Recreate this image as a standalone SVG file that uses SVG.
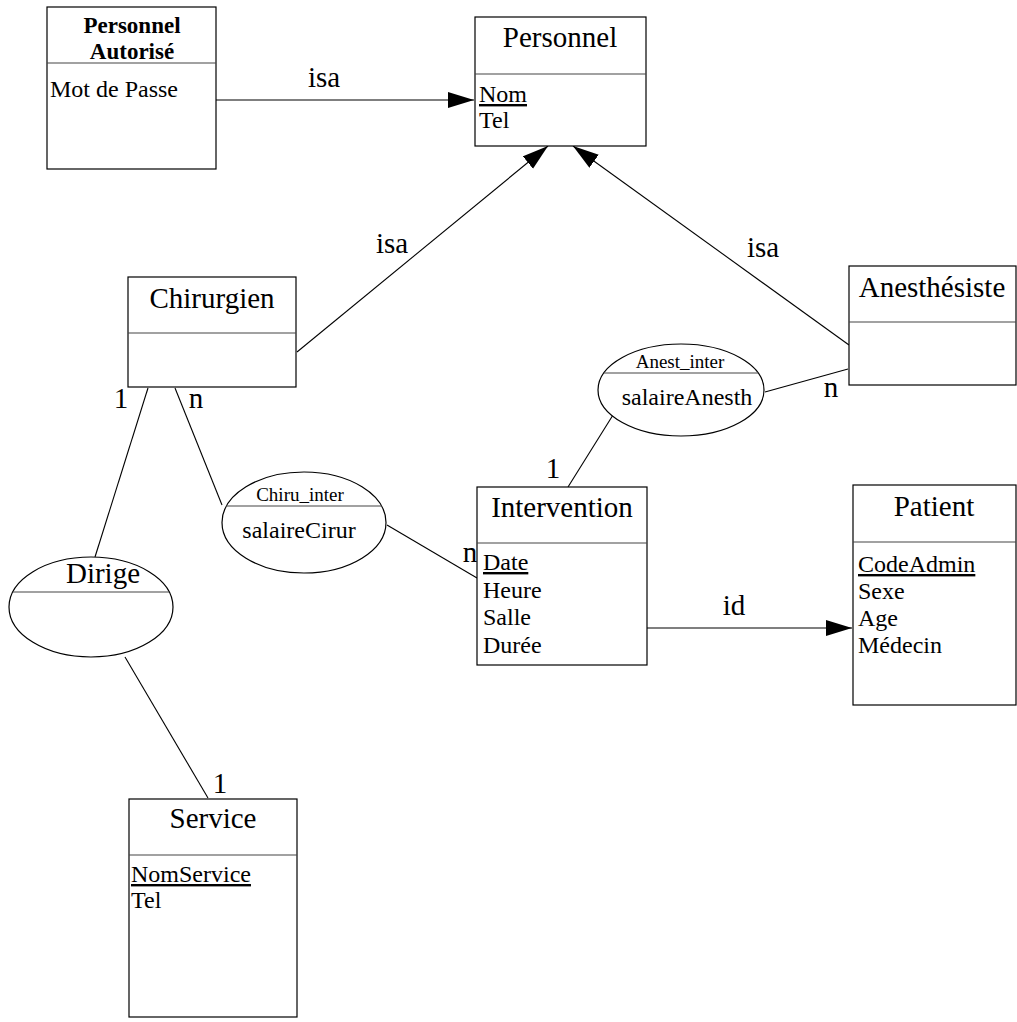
<svg xmlns="http://www.w3.org/2000/svg" width="1017" height="1022" viewBox="0 0 1017 1022">
<style>
text{font-family:"Liberation Serif","Times New Roman",serif;fill:#000}
.box{fill:#fff;stroke:#000;stroke-width:1.2}
.div{stroke:#444;stroke-width:1.2}
.title{font-size:29px;text-anchor:middle}
.btitle{font-size:23px;font-weight:bold;text-anchor:middle}
.attr{font-size:24px}
.small{font-size:19px;text-anchor:middle}
.mid{font-size:24px;text-anchor:middle}
.lbl{font-size:29px;text-anchor:middle}
.u{text-decoration:underline}
.con{stroke:#000;stroke-width:1.1;fill:none}
.ell{fill:#fff;stroke:#000;stroke-width:1.2}
</style>
<defs>
<marker id="arr" markerUnits="userSpaceOnUse" markerWidth="27" markerHeight="17" refX="26" refY="8" orient="auto">
<path d="M0,0 L26,8 L0,16 z" fill="#000"/>
</marker>
</defs>
<g id="connectors">
<line class="con" x1="216" y1="100" x2="474" y2="100" marker-end="url(#arr)"/>
<line class="con" x1="297" y1="352" x2="548" y2="146" marker-end="url(#arr)"/>
<line class="con" x1="849" y1="345" x2="573" y2="146" marker-end="url(#arr)"/>
<line class="con" x1="148" y1="388" x2="95" y2="557"/>
<line class="con" x1="125" y1="657" x2="208" y2="798"/>
<line class="con" x1="175" y1="388" x2="222" y2="505"/>
<line class="con" x1="387" y1="525" x2="477" y2="578"/>
<line class="con" x1="568" y1="487" x2="613" y2="415"/>
<line class="con" x1="765" y1="392" x2="848" y2="369"/>
<line class="con" x1="647" y1="628" x2="852" y2="628" marker-end="url(#arr)"/>
<text class="lbl" x="324" y="87">isa</text>
<text class="lbl" x="392" y="253">isa</text>
<text class="lbl" x="763" y="257">isa</text>
<text class="lbl" x="121" y="408">1</text>
<text class="lbl" x="196" y="408">n</text>
<text class="lbl" x="470" y="562">n</text>
<text class="lbl" x="553" y="478">1</text>
<text class="lbl" x="831" y="397">n</text>
<text class="lbl" x="220" y="793">1</text>
<text class="lbl" x="734" y="615">id</text>
</g>
<g id="personnel-autorise">
<rect class="box" x="47" y="7" width="169" height="162"/>
<line class="div" x1="47" y1="63" x2="216" y2="63"/>
<text class="btitle" x="132" y="33">Personnel</text>
<text class="btitle" x="132" y="59">Autorisé</text>
<text class="attr" x="50" y="97">Mot de Passe</text>
</g>
<g id="personnel">
<rect class="box" x="475" y="17" width="171" height="129"/>
<line class="div" x1="475" y1="74" x2="646" y2="74"/>
<text class="title" x="560" y="47">Personnel</text>
<text class="attr u" x="479" y="102">Nom</text>
<text class="attr" x="479" y="128">Tel</text>
</g>
<g id="chirurgien">
<rect class="box" x="128" y="277" width="168" height="110"/>
<line class="div" x1="128" y1="333" x2="296" y2="333"/>
<text class="title" x="212" y="308">Chirurgien</text>
</g>
<g id="anesthesiste">
<rect class="box" x="849" y="266" width="167" height="119"/>
<line class="div" x1="849" y1="322" x2="1016" y2="322"/>
<text class="title" x="932" y="297">Anesthésiste</text>
</g>
<g id="anest-inter">
<ellipse class="ell" cx="681" cy="390" rx="83" ry="46"/>
<line class="div" x1="604" y1="373" x2="758" y2="373"/>
<text class="small" x="680" y="368">Anest_inter</text>
<text class="mid" x="687" y="405">salaireAnesth</text>
</g>
<g id="chiru-inter">
<ellipse class="ell" cx="304" cy="522.5" rx="82" ry="50.5"/>
<line class="div" x1="226" y1="506" x2="382" y2="506"/>
<text class="small" x="300" y="501">Chiru_inter</text>
<text class="mid" x="299" y="538">salaireCirur</text>
</g>
<g id="intervention">
<rect class="box" x="477" y="487" width="170" height="178"/>
<line class="div" x1="477" y1="543" x2="647" y2="543"/>
<text class="title" x="562" y="517">Intervention</text>
<text class="attr u" x="483" y="570">Date</text>
<text class="attr" x="483" y="598">Heure</text>
<text class="attr" x="483" y="625">Salle</text>
<text class="attr" x="483" y="653">Durée</text>
</g>
<g id="patient">
<rect class="box" x="853" y="485" width="163" height="220"/>
<line class="div" x1="853" y1="542" x2="1016" y2="542"/>
<text class="title" x="934" y="516">Patient</text>
<text class="attr u" x="858" y="572">CodeAdmin</text>
<text class="attr" x="858" y="599">Sexe</text>
<text class="attr" x="858" y="626">Age</text>
<text class="attr" x="858" y="653">Médecin</text>
</g>
<g id="dirige">
<ellipse class="ell" cx="91" cy="607" rx="82" ry="50"/>
<line class="div" x1="13" y1="592" x2="169" y2="592" stroke="#777"/>
<text class="title" x="103" y="583">Dirige</text>
</g>
<g id="service">
<rect class="box" x="129" y="799" width="168" height="218"/>
<line class="div" x1="129" y1="855" x2="297" y2="855"/>
<text class="title" x="213" y="828">Service</text>
<text class="attr u" x="131" y="882">NomService</text>
<text class="attr" x="131" y="908">Tel</text>
</g>
</svg>
